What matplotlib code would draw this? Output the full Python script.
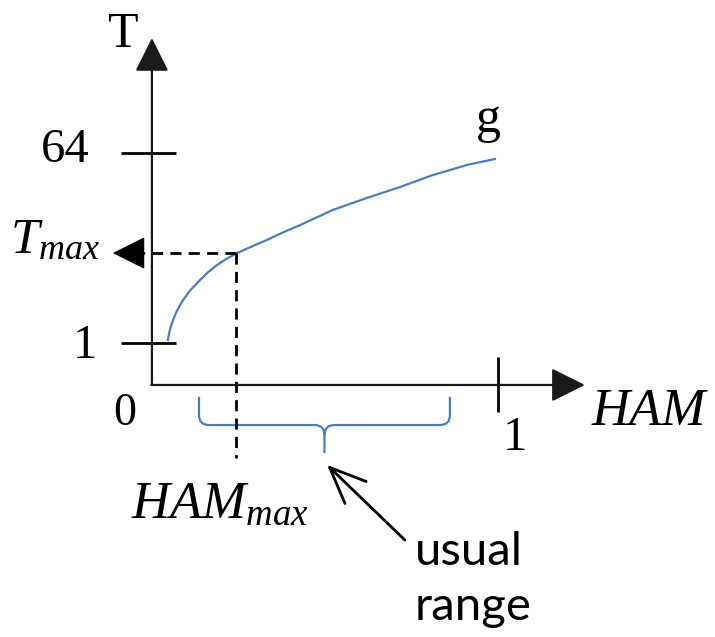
import numpy as np
import matplotlib
import matplotlib.pyplot as plt
from matplotlib.path import Path
from matplotlib.patches import PathPatch

matplotlib.rcParams['mathtext.fontset'] = 'custom'
matplotlib.rcParams['mathtext.rm'] = 'Liberation Serif'
matplotlib.rcParams['mathtext.it'] = 'Liberation Serif:italic'

# curve g (HAM, T)
ham_curve = [0.046, 0.050, 0.055, 0.061, 0.070, 0.080, 0.090, 0.110, 0.139,
             0.162, 0.188, 0.215, 0.246, 0.290, 0.332, 0.380, 0.428,
             0.523, 0.621, 0.717, 0.812, 0.910, 0.991]
t_curve = [1.07, 1.25, 1.45, 1.65, 1.95, 2.25, 2.56, 3.15, 3.97,
           4.70, 5.51, 6.30, 7.16, 8.30, 9.53, 11.3, 13.2,
           18.4, 23.9, 30.4, 39.5, 49.2, 56.1]

ham_max = 0.243
t_max = 7.16

t_ticks = [1, 64]
t_tick_labels = ['1', '64']
ham_ticks = [0, 1]
ham_tick_labels = ['0', '1']

usual_range = (0.136, 0.861)

# axis extents
t_axis = 0.399        # where the HAM axis crosses T
t_top = 792
ham_end = 1.251

blue = '#4a7ebb'
ink = '#1a1a1a'
serif = 'Liberation Serif'

fig = plt.figure(figsize=(7.15, 6.37), dpi=100)
ax = fig.add_axes([0, 0, 1, 1])
ax.set_yscale('log', base=2)
ax.set_xlim(-0.439, 1.627)
ax.set_ylim(2 ** -9.283, 2 ** 10.83)
ax.axis('off')

arrow_head = '-|>,head_length=21,head_width=10.5'

# axes with arrows
ax.annotate('', xy=(0, t_top), xytext=(0, t_axis),
            arrowprops=dict(arrowstyle=arrow_head, mutation_scale=1, lw=1.6,
                            color=ink, shrinkA=0, shrinkB=0))
ax.annotate('', xy=(ham_end, t_axis), xytext=(-0.002, t_axis),
            arrowprops=dict(arrowstyle=arrow_head, mutation_scale=1, lw=1.6,
                            color=ink, shrinkA=0, shrinkB=0))

# ticks on T axis
for t in t_ticks:
    ax.plot([-0.09, 0.07], [t, t], color='black', lw=2, solid_capstyle='butt')
ax.annotate(t_tick_labels[1], xy=(0, 64), xytext=(-62, -9), textcoords='offset pixels',
            ha='right', va='baseline', fontsize=35, family=serif)
ax.annotate(t_tick_labels[0], xy=(0, 1), xytext=(-55, -15), textcoords='offset pixels',
            ha='right', va='baseline', fontsize=35, family=serif)

# tick at HAM = 1
ax.plot([1, 1], [0.221, 0.736], color='black', lw=2, solid_capstyle='butt')
ax.annotate(ham_tick_labels[1], xy=(1, t_axis), xytext=(17, -65), textcoords='offset pixels',
            ha='center', va='baseline', fontsize=35, family=serif)
ax.annotate(ham_tick_labels[0], xy=(0, t_axis), xytext=(-27, -40), textcoords='offset pixels',
            ha='center', va='baseline', fontsize=33, family=serif)

# axis names
ax.annotate('T', xy=(0, t_top), xytext=(-30, -9), textcoords='offset pixels',
            ha='center', va='baseline', fontsize=36, family=serif)
ax.annotate('HAM', xy=(ham_end, t_axis), xytext=(7, -40), textcoords='offset pixels',
            ha='left', va='baseline', fontsize=38, family=serif, style='italic')

# curve g
ax.plot(ham_curve, t_curve, color=blue, lw=1.6, solid_joinstyle='round')
ax.annotate('g', xy=(ham_curve[-1], t_curve[-1]), xytext=(-7, 27), textcoords='offset pixels',
            ha='center', va='baseline', fontsize=36, family=serif)

# T_max / HAM_max dashed guides
ax.plot([ham_max, -0.03], [t_max, t_max], color='black', lw=2, ls=(0, (4, 2.6)))
ax.annotate('', xy=(-0.113, t_max), xytext=(-0.02, t_max),
            arrowprops=dict(arrowstyle=arrow_head, mutation_scale=1, lw=1,
                            color='black', shrinkA=0, shrinkB=0))
ax.plot([ham_max, ham_max], [t_max, 0.0807], color='black', lw=2, ls=(0, (4, 2.6)))
ax.annotate(r'$T_{max}$', xy=(0, t_max), xytext=(-52, 0), textcoords='offset pixels',
            ha='right', va='baseline', fontsize=37)
ax.annotate(r'$HAM_{max}$', xy=(ham_max, t_axis), xytext=(-105, -133), textcoords='offset pixels',
            ha='left', va='baseline', fontsize=38)

# brace over the usual range, built in display space
lo, hi = usual_range
(x0, y_top), (x1, _) = ax.transData.transform([(lo, 0.307), (hi, 0.307)])
_, y_mid = ax.transData.transform((lo, 0.166))
_, y_tip = ax.transData.transform((lo, 0.090))
xc = (x0 + x1) / 2
r = 10
verts = [(x0, y_top), (x0, y_mid + r), (x0, y_mid), (x0 + r, y_mid),
         (xc - r, y_mid), (xc, y_mid), (xc, y_mid - r), (xc, y_tip),
         (xc, y_mid - r), (xc, y_mid), (xc + r, y_mid),
         (x1 - r, y_mid), (x1, y_mid), (x1, y_mid + r), (x1, y_top)]
codes = [Path.MOVETO, Path.LINETO, Path.CURVE3, Path.CURVE3,
         Path.LINETO, Path.CURVE3, Path.CURVE3, Path.LINETO,
         Path.MOVETO, Path.CURVE3, Path.CURVE3,
         Path.LINETO, Path.CURVE3, Path.CURVE3, Path.LINETO]
data_verts = ax.transData.inverted().transform(verts)
ax.add_patch(PathPatch(Path(data_verts, codes), fill=False, edgecolor=blue, lw=1.6))

# "usual range" callout
ax.annotate('', xy=(0.506, 0.0693), xytext=(0.731, 0.0134),
            arrowprops=dict(arrowstyle='->,head_length=1.3,head_width=0.55',
                            mutation_scale=20, lw=2, color='black',
                            shrinkA=0, shrinkB=0))
ax.annotate('usual', xy=(0.731, 0.0134), xytext=(10, -25), textcoords='offset pixels',
            ha='left', va='baseline', fontsize=34, family='Lato')
ax.annotate('range', xy=(0.731, 0.0134), xytext=(10, -80), textcoords='offset pixels',
            ha='left', va='baseline', fontsize=34, family='Lato')

fig.savefig('out.png', dpi=100)
